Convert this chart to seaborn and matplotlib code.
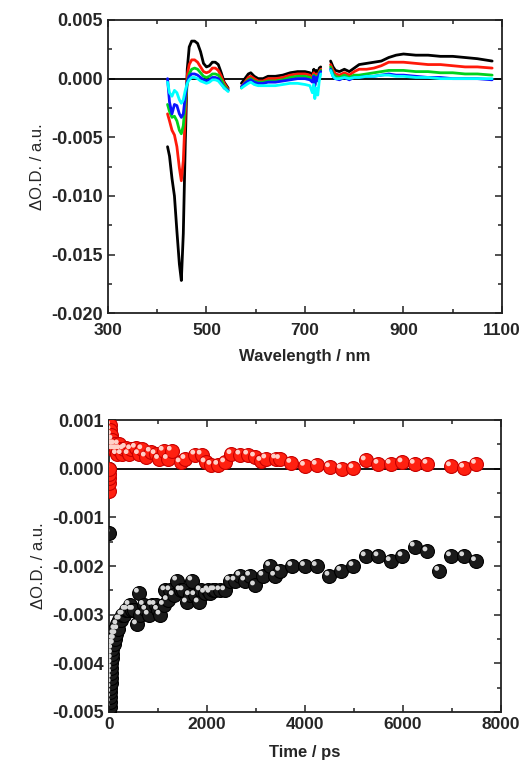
import numpy as np
import pandas as pd
import matplotlib
matplotlib.use('Agg')
import matplotlib.pyplot as plt
import seaborn as sns
from matplotlib.ticker import MultipleLocator, FormatStrFormatter
from matplotlib.transforms import ScaledTranslation

# ---- transient spectra (three detector windows) ----
seg1_nm = [421, 425, 430, 435, 440, 445, 449, 453, 457, 461, 465, 470, 476, 482,
           488, 494, 500, 506, 512, 518, 524, 530, 536, 544]
seg2_nm = [571, 578, 585, 590, 597, 605, 615, 625, 640, 655, 670, 685, 700, 710,
           715, 718, 720, 723, 726, 729, 732]
seg3_nm = [752, 757, 762, 770, 780, 790, 800, 810, 825, 840, 855, 870, 885, 900,
           925, 950, 975, 1000, 1025, 1050, 1080]

black_1 = [-0.0058, -0.0066, -0.0085, -0.0100, -0.0130, -0.0158, -0.0172, -0.0132, -0.0055, 0.0008,
           0.0027, 0.0032, 0.0032, 0.0030, 0.0023, 0.0013, 0.0010, 0.0011, 0.0014, 0.0014,
           0.0012, 0.0005, -0.0003, -0.0008]
red_1 = [-0.0030, -0.0036, -0.0044, -0.0048, -0.0058, -0.0076, -0.0087, -0.0070, -0.0030, 0.0003,
         0.0012, 0.0016, 0.0016, 0.0014, 0.0010, 0.0006, 0.0005, 0.0006, 0.0009, 0.0009,
         0.0007, 0.0002, -0.0004, -0.0009]
green_1 = [-0.0022, -0.0028, -0.0033, -0.0032, -0.0036, -0.0044, -0.0047, -0.0040, -0.0020, -0.0003,
           0.0004, 0.0008, 0.0009, 0.0008, 0.0005, 0.0002, 0.0001, 0.0002, 0.0004, 0.0004,
           0.0003, -0.0001, -0.0006, -0.0010]
blue_1 = [0.0000, -0.0020, -0.0030, -0.0022, -0.0023, -0.0030, -0.0033, -0.0030, -0.0015, -0.0003,
          0.0002, 0.0004, 0.0004, 0.0003, 0.0001, -0.0001, -0.0002, -0.0001, 0.0001, 0.0001,
          0.0000, -0.0004, -0.0008, -0.0010]
cyan_1 = [-0.0003, -0.0012, -0.0015, -0.0010, -0.0012, -0.0018, -0.0021, -0.0018, -0.0010, -0.0004,
          -0.0001, 0.0001, 0.0001, 0.0000, -0.0002, -0.0003, -0.0004, -0.0003, -0.0001, -0.0001,
          -0.0002, -0.0005, -0.0008, -0.0011]

black_2 = [-0.0004, 0.0000, 0.0004, 0.0005, 0.0002, 0.0000, 0.0000, 0.0002, 0.0002, 0.0003,
           0.0005, 0.0006, 0.0006, 0.0005, 0.0003, 0.0008, 0.0001, 0.0007, 0.0004, 0.0009, 0.0010]
red_2 = [-0.0007, -0.0003, 0.0001, 0.0002, 0.0000, -0.0002, -0.0002, 0.0000, 0.0000, 0.0001,
         0.0003, 0.0004, 0.0004, 0.0003, 0.0001, 0.0005, -0.0002, 0.0004, 0.0002, 0.0006, 0.0008]
green_2 = [-0.0008, -0.0004, -0.0001, 0.0000, -0.0002, -0.0003, -0.0003, -0.0002, -0.0002, -0.0001,
           0.0001, 0.0002, 0.0002, 0.0001, -0.0002, 0.0003, -0.0005, 0.0002, 0.0000, 0.0005, 0.0007]
blue_2 = [-0.0007, -0.0004, -0.0002, -0.0001, -0.0003, -0.0004, -0.0004, -0.0003, -0.0003, -0.0002,
          -0.0001, 0.0000, 0.0000, -0.0001, -0.0003, 0.0002, -0.0006, 0.0001, -0.0002, 0.0004, 0.0006]
cyan_2 = [-0.0008, -0.0006, -0.0004, -0.0003, -0.0005, -0.0006, -0.0006, -0.0006, -0.0006, -0.0005,
          -0.0004, -0.0004, -0.0005, -0.0006, -0.0012, -0.0005, -0.0017, -0.0008, -0.0014, -0.0002, 0.0004]

black_3 = [0.0015, 0.0010, 0.0007, 0.0006, 0.0008, 0.0006, 0.0009, 0.0012, 0.0013, 0.0014,
           0.0015, 0.0018, 0.0020, 0.0021, 0.0020, 0.0020, 0.0019, 0.0019, 0.0018, 0.0017, 0.0015]
red_3 = [0.0012, 0.0007, 0.0004, 0.0003, 0.0005, 0.0003, 0.0006, 0.0008, 0.0008, 0.0009,
         0.0011, 0.0014, 0.0014, 0.0014, 0.0013, 0.0012, 0.0012, 0.0011, 0.0010, 0.0010, 0.0009]
green_3 = [0.0010, 0.0004, 0.0002, 0.0001, 0.0003, 0.0001, 0.0003, 0.0003, 0.0004, 0.0005,
           0.0006, 0.0007, 0.0007, 0.0007, 0.0006, 0.0006, 0.0005, 0.0005, 0.0004, 0.0004, 0.0003]
blue_3 = [0.0008, 0.0002, 0.0000, -0.0001, 0.0001, -0.0001, 0.0001, 0.0001, 0.0002, 0.0002,
          0.0003, 0.0004, 0.0003, 0.0003, 0.0002, 0.0001, 0.0001, 0.0000, 0.0000, 0.0000, -0.0001]
cyan_3 = [0.0007, 0.0002, 0.0000, 0.0000, 0.0001, 0.0000, 0.0001, 0.0001, 0.0002, 0.0002,
          0.0003, 0.0003, 0.0002, 0.0002, 0.0001, 0.0001, 0.0000, 0.0000, 0.0000, 0.0000, 0.0000]

# ---- kinetics ----
t_black = [0, 10, 5, 12, 18, 22, 26, 30, 34, 38, 42, 46, 50, 55, 60, 65, 70, 80, 90, 100,
           110, 120, 130, 150, 170, 190, 210, 240, 270, 300, 340, 380, 420, 470, 510, 570,
           610, 640, 710, 760, 810, 880, 950, 1000, 1050, 1120, 1150, 1200, 1250, 1320, 1390,
           1460, 1520, 1590, 1650, 1700, 1760, 1830, 1870, 1960, 2030, 2070, 2130, 2170, 2270,
           2370, 2470, 2580, 2680, 2780, 2880, 2980, 3150, 3290, 3390, 3490, 3740, 4000, 4240,
           4500, 4740, 4990, 5240, 5500, 5750, 5990, 6240, 6500, 6740, 6980, 7250, 7490]
v_black = [0.0000, -0.00132, -0.0050, -0.0049, -0.0048, -0.0047, -0.0046, -0.0045, -0.0044,
           -0.0043, -0.0042, -0.0041, -0.0040, -0.0039, -0.0038, -0.0037, -0.0036, -0.0036,
           -0.0035, -0.0036, -0.0034, -0.0035, -0.0033, -0.0034, -0.0032, -0.0033, -0.0031,
           -0.0031, -0.0030, -0.0030, -0.0029, -0.0029, -0.0028, -0.0029, -0.0029, -0.0032,
           -0.00255, -0.0030, -0.0028, -0.0029, -0.0030, -0.0028, -0.0028, -0.0029, -0.0030,
           -0.0028, -0.0025, -0.0027, -0.0025, -0.0026, -0.0023, -0.0025, -0.0025, -0.00275,
           -0.0026, -0.0023, -0.0026, -0.00275, -0.0025, -0.00255, -0.0025, -0.00255, -0.0025,
           -0.0025, -0.0025, -0.0025, -0.0023, -0.0023, -0.0022, -0.0023, -0.0022, -0.0024,
           -0.0022, -0.0020, -0.0022, -0.0021, -0.0020, -0.0020, -0.0020, -0.0022, -0.0021,
           -0.0020, -0.0018, -0.0018, -0.0019, -0.0018, -0.0016, -0.0017, -0.0021, -0.0018,
           -0.0018, -0.0019]

t_red = [0, 0, 0, 0, 5, 10, 15, 20, 25, 30, 35, 40, 50, 60, 70, 80, 90, 100, 120, 140, 160,
         180, 200, 230, 260, 300, 345, 400, 450, 548, 610, 680, 750, 850, 950, 1020, 1116, 1200,
         1280, 1460, 1560, 1760, 1890, 1970, 2090, 2230, 2370, 2500, 2680, 2840, 2980, 3110,
         3210, 3410, 3490, 3720, 4000, 4240, 4510, 4750, 4990, 5240, 5500, 5750, 5990, 6240,
         6500, 6980, 7250, 7490]
v_red = [-0.00045, -0.0003, -0.0002, -0.0001, 0.0000, 0.0009, 0.0008, 0.0009, 0.0007, 0.0008,
         0.0006, 0.0007, 0.0006, 0.0005, 0.0006, 0.0004, 0.0005, 0.0004, 0.0005, 0.0004, 0.0003,
         0.0004, 0.0005, 0.0004, 0.0003, 0.0004, 0.00043, 0.0003, 0.0004, 0.00043, 0.0003,
         0.0004, 0.00025, 0.00035, 0.0003, 0.0002, 0.00037, 0.0002, 0.00037, 0.00013, 0.0002,
         0.00029, 0.00029, 0.00013, 0.00008, 0.00008, 0.00013, 0.0003, 0.00029, 0.00029,
         0.00025, 0.00016, 0.00021, 0.00021, 0.0002, 0.00012, 0.00006, 0.00008, 0.00003, 0.0,
         0.00001, 0.00017, 0.0001, 0.0001, 0.00013, 0.0001, 0.0001, 0.00005, 0.00002, 0.0001]

series_names = ['black', 'red', 'green', 'blue', 'cyan']
series_colors = ['#000000', '#ff1a0a', '#00d21e', '#0a14ff', '#00ffff']
spectra = {
    'black': [black_1, black_2, black_3],
    'red': [red_1, red_2, red_3],
    'green': [green_1, green_2, green_3],
    'blue': [blue_1, blue_2, blue_3],
    'cyan': [cyan_1, cyan_2, cyan_3],
}

rows = []
for name in series_names:
    for k, nm in enumerate([seg1_nm, seg2_nm, seg3_nm]):
        for w, v in zip(nm, spectra[name][k]):
            rows.append({'nm': w, 'dOD': v, 'series': name, 'seg': k})
spec_df = pd.DataFrame(rows)

sns.set_style('ticks')
plt.rcParams['font.family'] = ['Liberation Sans', 'DejaVu Sans']
plt.rcParams['axes.unicode_minus'] = False

fig = plt.figure(figsize=(5.24, 7.68), dpi=100)
ax1 = fig.add_axes([0.206, 0.592, 0.752, 0.382])
ax2 = fig.add_axes([0.208, 0.073, 0.748, 0.380])

# top: spectra
ax1.axhline(0, color='black', lw=1.3, zorder=1)
sns.lineplot(data=spec_df, x='nm', y='dOD', hue='series', units='seg', estimator=None,
             palette=dict(zip(series_names, series_colors)), hue_order=series_names,
             lw=2.0, sort=False, legend=False, ax=ax1)
ax1.set_xlim(300, 1100)
ax1.set_ylim(-0.020, 0.005)
ax1.xaxis.set_major_locator(MultipleLocator(200, offset=100))
ax1.xaxis.set_minor_locator(MultipleLocator(100))
ax1.yaxis.set_major_locator(MultipleLocator(0.005))
ax1.yaxis.set_minor_locator(MultipleLocator(0.0025))
ax1.yaxis.set_major_formatter(FormatStrFormatter('%.3f'))
ax1.set_xlabel('Wavelength / nm', fontsize=12, fontweight='bold', labelpad=8)

# bottom: kinetics
ax2.axhline(0, color='black', lw=1.3, zorder=1)
shift = ax2.transData + ScaledTranslation(-1.8 / 72, 1.8 / 72, fig.dpi_scale_trans)
for tt, vv, fc, ec, hc in [(t_black, v_black, '#1a1a1a', '#000000', '#d8d8d8'),
                           (t_red, v_red, '#ff2010', '#c80000', '#ffd0c8')]:
    sns.scatterplot(x=tt, y=vv, s=100, color=fc, edgecolor=ec, linewidth=0.8, ax=ax2, zorder=3)
    sns.scatterplot(x=tt, y=vv, s=12, color=hc, edgecolor='none', linewidth=0, ax=ax2, zorder=4)
    ax2.collections[-1].set_offset_transform(shift)
ax2.set_xlim(0, 8000)
ax2.set_ylim(-0.005, 0.001)
ax2.xaxis.set_major_locator(MultipleLocator(2000))
ax2.xaxis.set_minor_locator(MultipleLocator(1000))
ax2.yaxis.set_major_locator(MultipleLocator(0.001))
ax2.yaxis.set_minor_locator(MultipleLocator(0.0005))
ax2.yaxis.set_major_formatter(FormatStrFormatter('%.3f'))
ax2.set_xlabel('Time / ps', fontsize=12, fontweight='bold', labelpad=9)

for ax in (ax1, ax2):
    ax.set_ylabel('\u0394O.D. / a.u.', fontsize=12, labelpad=4)
    for sp in ax.spines.values():
        sp.set_linewidth(1.3)
        sp.set_color('#222222')
    ax.tick_params(which='both', direction='in', top=True, right=True, width=1.1, color='#222222')
    ax.tick_params(which='major', length=5, pad=4)
    ax.tick_params(axis='y', which='major', labelsize=13)
    ax.tick_params(axis='x', which='major', labelsize=12.5)
    ax.tick_params(which='minor', length=3)
    for lab in ax.get_xticklabels() + ax.get_yticklabels():
        lab.set_fontweight('bold')
ax1.tick_params(axis='x', which='major', pad=7)

fig.savefig('out.png', dpi=100)
